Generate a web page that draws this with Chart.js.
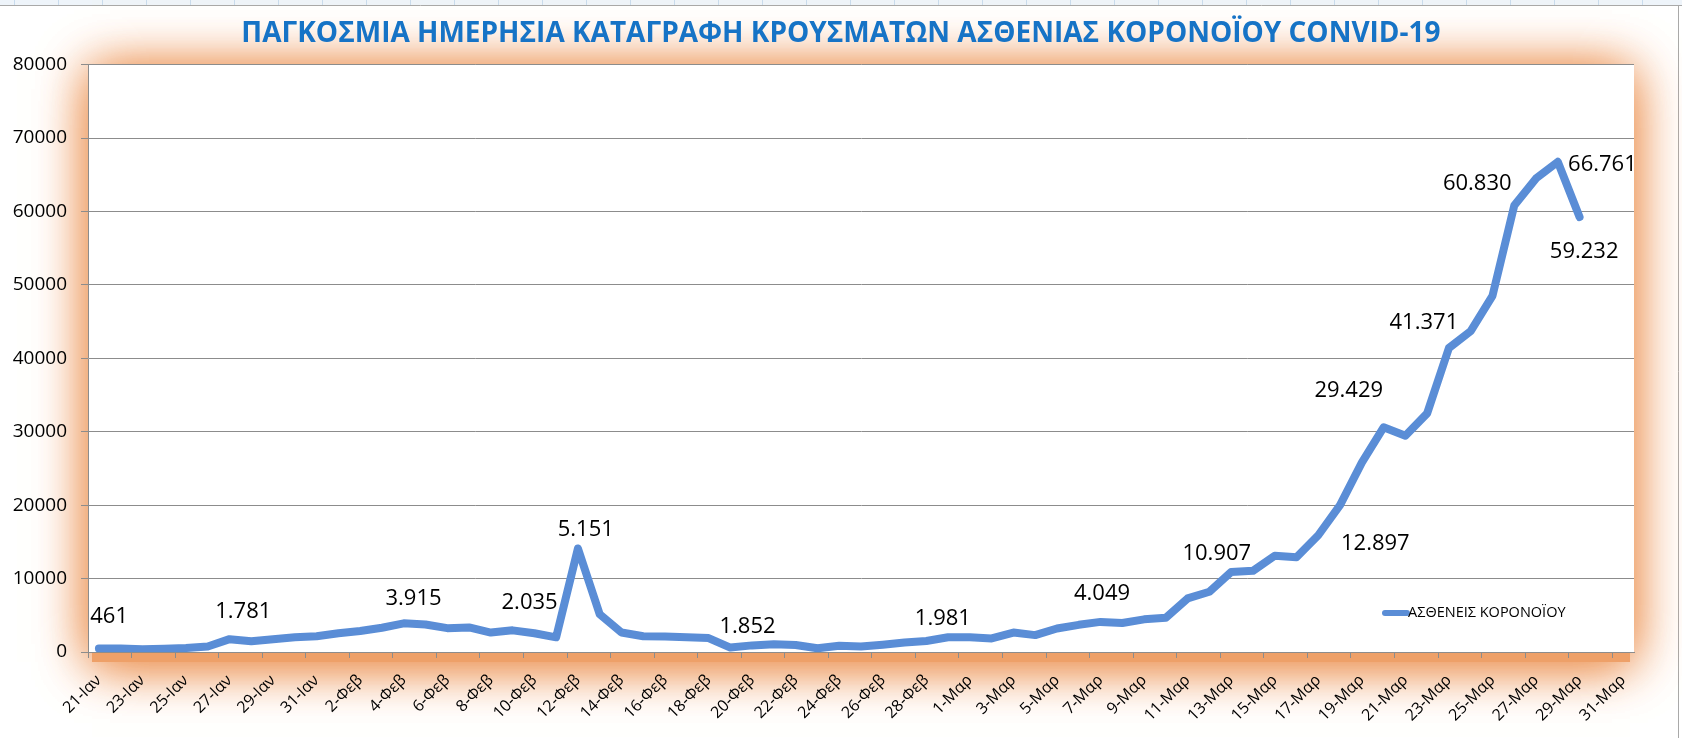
<!DOCTYPE html>
<html>
<head>
<meta charset="utf-8">
<script src="https://cdn.jsdelivr.net/npm/chart.js@4.4.1/dist/chart.umd.min.js"></script>
<style>
  html, body { margin: 0; padding: 0; background: #ffffff; }
  #wrap { position: relative; width: 1682px; height: 738px; }
  canvas { display: block; }
</style>
</head>
<body>
<div id="wrap"><canvas id="c" width="1682" height="738"></canvas></div>
<script>
// ---------- data ----------
const chartTitle = 'ΠΑΓΚΟΣΜΙΑ ΗΜΕΡΗΣΙΑ ΚΑΤΑΓΡΑΦΗ ΚΡΟΥΣΜΑΤΩΝ ΑΣΘΕΝΙΑΣ ΚΟΡΟΝΟΪΟΥ CONVID-19';
const seriesName = 'ΑΣΘΕΝΕΙΣ ΚΟΡΟΝΟΪΟΥ';

const categories = [
  '21-Ιαν','22-Ιαν','23-Ιαν','24-Ιαν','25-Ιαν','26-Ιαν','27-Ιαν','28-Ιαν','29-Ιαν','30-Ιαν','31-Ιαν',
  '1-Φεβ','2-Φεβ','3-Φεβ','4-Φεβ','5-Φεβ','6-Φεβ','7-Φεβ','8-Φεβ','9-Φεβ','10-Φεβ',
  '11-Φεβ','12-Φεβ','13-Φεβ','14-Φεβ','15-Φεβ','16-Φεβ','17-Φεβ','18-Φεβ','19-Φεβ','20-Φεβ',
  '21-Φεβ','22-Φεβ','23-Φεβ','24-Φεβ','25-Φεβ','26-Φεβ','27-Φεβ','28-Φεβ','29-Φεβ',
  '1-Μαρ','2-Μαρ','3-Μαρ','4-Μαρ','5-Μαρ','6-Μαρ','7-Μαρ','8-Μαρ','9-Μαρ','10-Μαρ',
  '11-Μαρ','12-Μαρ','13-Μαρ','14-Μαρ','15-Μαρ','16-Μαρ','17-Μαρ','18-Μαρ','19-Μαρ','20-Μαρ',
  '21-Μαρ','22-Μαρ','23-Μαρ','24-Μαρ','25-Μαρ','26-Μαρ','27-Μαρ','28-Μαρ','29-Μαρ','30-Μαρ','31-Μαρ'
];

const dailyCases = [
  480, 480, 360, 450, 540, 760, 1750, 1450, 1750, 2000, 2150,
  2550, 2850, 3300, 3900, 3750, 3250, 3350, 2650, 2950, 2550,
  2000, 14100, 5150, 2650, 2150, 2100, 2000, 1900, 600, 900,
  1050, 950, 500, 850, 750, 1000, 1300, 1500, 2000,
  2000, 1850, 2650, 2300, 3200, 3700, 4100, 3950, 4450, 4650,
  7300, 8200, 10900, 11050, 13100, 12900, 15900, 20000, 25800, 30600,
  29450, 32500, 41400, 43700, 48500, 60800, 64500, 66761, 59232, null, null
];

const yTicks = [0, 10000, 20000, 30000, 40000, 50000, 60000, 70000, 80000];

// annotation texts and where they sit (category position, value position)
const noteTexts  = ['461', '1.781', '3.915', '2.035', '5.151', '1.852', '1.981', '4.049',
                    '10.907', '12.897', '29.429', '41.371', '60.830', '66.761', '59.232'];
const noteIndex  = [0.47, 6.63, 14.45, 19.78, 22.36, 29.79, 38.76, 46.07,
                    51.34, 58.62, 57.40, 60.85, 63.30, 69.05, 68.21];
const noteValue  = [4810, 5490, 7220, 6720, 16620, 3450, 4590, 8000,
                    13440, 14710, 35560, 44860, 63720, 66350, 54540];

// ---------- styles ----------
const LINE_COLOR = '#5A8DD6';
const GRID_COLOR = '#8C8C8C';
const BASE_FONT = '"Open Sans", "DejaVu Sans", sans-serif';

const decorPlugin = {
  id: 'decor',
  beforeDraw(chart) {
    const { ctx, chartArea: a, width, height } = chart;
    ctx.save();
    ctx.fillStyle = '#ffffff';
    ctx.fillRect(0, 0, width, height);
    // spreadsheet strip at top
    ctx.fillStyle = '#EEF4FA';
    ctx.fillRect(0, 0, width, 5);
    ctx.strokeStyle = '#C9DCEE';
    ctx.lineWidth = 1;
    for (let x = 14; x < width; x += 44) {
      ctx.beginPath(); ctx.moveTo(x + 0.5, 0); ctx.lineTo(x + 0.5, 5); ctx.stroke();
    }
    ctx.strokeStyle = '#A9A9A9';
    ctx.beginPath(); ctx.moveTo(0, 5.5); ctx.lineTo(width, 5.5); ctx.stroke();
    ctx.beginPath(); ctx.moveTo(width - 3.5, 5); ctx.lineTo(width - 3.5, height); ctx.stroke();
    // orange glow around plot area
    ctx.fillStyle = 'rgb(238,160,104)';
    ctx.shadowColor = 'rgba(236,145,80,1)';
    ctx.shadowBlur = 50;
    for (let k = 0; k < 2; k++) {
      ctx.fillRect(a.left + 4, a.top + 6, a.width - 8, a.height + 4);
    }
    ctx.restore();
    ctx.save();
    ctx.fillStyle = '#ffffff';
    ctx.fillRect(a.left, a.top, a.width, a.height);
    ctx.restore();
  },
  afterDatasetsDraw(chart) {
    const { ctx, chartArea: a } = chart;
    const xs = chart.scales.x, ys = chart.scales.y;
    ctx.save();
    ctx.fillStyle = '#000000';
    ctx.font = '22px ' + BASE_FONT;
    ctx.textAlign = 'center';
    ctx.textBaseline = 'middle';
    noteTexts.forEach((t, i) => {
      ctx.fillText(t, xs.getPixelForValue(noteIndex[i]), ys.getPixelForValue(noteValue[i]));
    });
    // legend inside plot
    const lx = a.right - 249, ly = a.bottom - 39;
    ctx.strokeStyle = LINE_COLOR;
    ctx.lineWidth = 6;
    ctx.lineCap = 'round';
    ctx.beginPath(); ctx.moveTo(lx, ly); ctx.lineTo(lx + 22, ly); ctx.stroke();
    ctx.font = '14.5px ' + BASE_FONT;
    ctx.textAlign = 'left';
    ctx.fillStyle = '#000000';
    ctx.fillText(seriesName, lx + 23, ly);
    ctx.restore();
  }
};

new Chart(document.getElementById('c'), {
  type: 'line',
  data: {
    labels: categories,
    datasets: [{
      label: seriesName,
      data: dailyCases,
      borderColor: LINE_COLOR,
      backgroundColor: LINE_COLOR,
      borderWidth: 8,
      borderJoinStyle: 'round',
      borderCapStyle: 'round',
      pointRadius: 0,
      tension: 0,
      fill: false
    }]
  },
  options: {
    responsive: false,
    devicePixelRatio: 1,
    animation: false,
    layout: { padding: { left: 0, right: 0, top: 0, bottom: 0 } },
    plugins: {
      legend: { display: false },
      tooltip: { enabled: false },
      title: {
        display: true,
        text: chartTitle,
        color: '#1673C6',
        font: { family: BASE_FONT, size: 28, weight: 'bold', lineHeight: 1.2 },
        padding: { top: 17, bottom: 14 }
      }
    },
    scales: {
      x: {
        type: 'category',
        offset: true,
        afterFit(s) { s.height = 86; },
        grid: {
          display: true,
          drawOnChartArea: false,
          drawTicks: true,
          offset: true,
          tickLength: 6,
          tickColor: (c) => (c.index % 2 === 0 ? GRID_COLOR : 'rgba(0,0,0,0)')
        },
        border: { display: true, color: GRID_COLOR, width: 1 },
        ticks: {
          autoSkip: false,
          minRotation: 45,
          maxRotation: 45,
          padding: 13,
          color: '#000000',
          font: { family: BASE_FONT, size: 16 },
          callback: (v, i) => (i % 2 === 0 ? categories[i] : '')
        }
      },
      y: {
        min: yTicks[0],
        max: yTicks[yTicks.length - 1],
        afterFit(s) { s.width = 88; },
        afterBuildTicks(s) { s.ticks = yTicks.map(v => ({ value: v })); },
        grid: { color: GRID_COLOR, lineWidth: 1, drawTicks: true, tickLength: 7 },
        border: { display: true, color: GRID_COLOR, width: 1 },
        ticks: {
          color: '#000000',
          padding: 14,
          font: { family: BASE_FONT, size: 19 },
          callback: (v) => String(v)
        }
      },
      yRight: {
        position: 'right',
        display: true,
        min: 0,
        max: 1,
        afterFit(s) { s.width = 48; },
        grid: { display: false, drawOnChartArea: false, drawTicks: false },
        border: { display: false },
        ticks: { display: false }
      }
    }
  },
  plugins: [decorPlugin]
});
</script>
</body>
</html>
